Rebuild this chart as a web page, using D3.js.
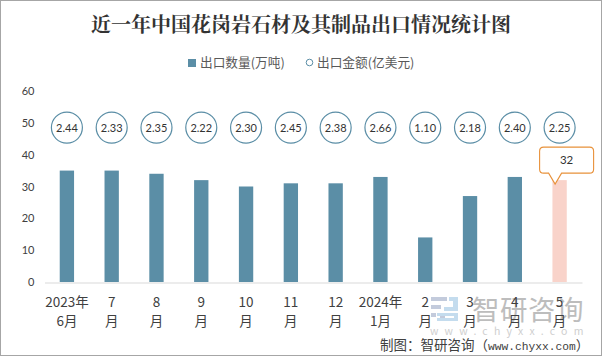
<!DOCTYPE html>
<html>
<head>
<meta charset="utf-8">
<script src="https://cdn.jsdelivr.net/npm/d3@7"></script>
<style>
html, body { margin: 0; padding: 0; background: #fff; }
svg { display: block; }
text { font-family: "Noto Sans CJK SC", "Liberation Sans", sans-serif; }
</style>
</head>
<body>
<div id="chart"></div>
<script>
const width = 602
const height = 356
const margin = { top: 91, right: 20, bottom: 74, left: 44.5 }

const months = ["2023年|6月", "7|月", "8|月", "9|月", "10|月", "11|月", "12|月", "2024年|1月", "2|月", "3|月", "4|月", "5|月"]
const quantity = [35, 35, 34, 32, 30, 31, 31, 33, 14, 27, 33, 32]
const amount = ["2.44", "2.33", "2.35", "2.22", "2.30", "2.45", "2.38", "2.66", "1.10", "2.18", "2.40", "2.25"]
const yTicks = [0, 10, 20, 30, 40, 50, 60]
const circleLevel = 48.5
const highlightIndex = 11

const blue = "#5b8ea6"
const textColor = "#404040"

const svg = d3.select("#chart")
    .append("svg")
    .attr("width", width)
    .attr("height", height)

// outer frame
svg.append("rect")
    .attr("x", 0.5)
    .attr("y", 0.5)
    .attr("width", width - 1)
    .attr("height", height - 1)
    .attr("fill", "#fff")
    .attr("stroke", "#a6a6a6")

svg.append("text")
    .text("近一年中国花岗岩石材及其制品出口情况统计图")
    .attr("x", 301)
    .attr("y", 32)
    .attr("text-anchor", "middle")
    .attr("font-size", 20)
    .attr("font-weight", 700)
    .attr("fill", "#333")
    .style("font-family", '"Noto Serif CJK SC", "Noto Sans CJK SC", serif')

const x = d3.scaleBand()
    .domain(months)
    .range([margin.left, width - margin.right])
    .paddingInner(0.68)
    .paddingOuter(0.34)

const y = d3.scaleLinear()
    .domain([0, 60])
    .range([height - margin.bottom, margin.top])

// watermark goes under the axis labels
const mark = svg.append("g")
mark.append("text")
    .text("智研咨询")
    .attr("x", 472)
    .attr("y", 320)
    .attr("font-size", 27.5)
    .attr("letter-spacing", 0.5)
    .attr("fill", "#bdbdbd")
mark.append("text")
    .text("www.chyxx.com")
    .attr("x", 430)
    .attr("y", 335)
    .attr("font-size", 10.5)
    .attr("letter-spacing", 6.2)
    .attr("fill", "#cfcfcf")
// logo, grey-blue left half and light blue right half
mark.append("path")
    .attr("d", "M431 297h16v4h-16zM431 305h10v4h-10zM431 313h5v4h-5zM440 313h5v8h-5z")
    .attr("fill", "#c3cbdc")
mark.append("path")
    .attr("d", "M449 297h9v14h-14v-4h9v-6h-4zM437 313h21v8h-21v-3h17v-2h-17z")
    .attr("fill", "#c4dcee")

// bars
svg.append("g")
    .selectAll("rect")
    .data(quantity)
    .join("rect")
    .attr("x", (d, i) => x(months[i]))
    .attr("y", d => y(d))
    .attr("width", x.bandwidth())
    .attr("height", d => y(0) - y(d))
    .attr("fill", (d, i) => i === highlightIndex ? "#f9d3ca" : blue)

// y axis, labels only
const yAxis = d3.axisLeft(y).tickValues(yTicks).tickSize(0).tickPadding(10)
const yG = svg.append("g")
    .attr("transform", `translate(${margin.left}, 0)`)
    .call(yAxis)
yG.select(".domain").remove()
yG.selectAll("text")
    .attr("font-size", 11)
    .attr("fill", textColor)
    .style("font-family", 'Lato, sans-serif')

// x axis, labels split over two lines
const xAxis = d3.axisBottom(x).tickSize(0).tickFormat("")
const xG = svg.append("g")
    .attr("transform", `translate(0, ${y(0) + 0.5})`)
    .call(xAxis)
xG.select(".domain")
    .attr("stroke", "#d9d9d9")
    .attr("stroke-width", 1)
xG.selectAll(".tick").each(function (d) {
    const parts = d.split("|")
    const label = d3.select(this).append("text")
        .attr("fill", textColor)
        .attr("font-size", 13.5)
        .attr("text-anchor", "middle")
    parts.forEach((p, j) => {
        label.append("tspan")
            .attr("x", 0)
            .attr("y", 24 + j * 19)
            .text(p)
    })
})

// amount bubbles
const bubble = svg.append("g")
    .selectAll("g")
    .data(amount)
    .join("g")
    .attr("transform", (d, i) => `translate(${x(months[i]) + x.bandwidth() / 2}, ${y(circleLevel)})`)
bubble.append("circle")
    .attr("r", 15.5)
    .attr("fill", "#fff")
    .attr("stroke", blue)
    .attr("stroke-width", 1.2)
bubble.append("text")
    .text(d => d)
    .attr("text-anchor", "middle")
    .attr("dy", "0.36em")
    .attr("font-size", 11)
    .attr("fill", "#333")
    .style("font-family", 'Lato, sans-serif')

// callout over last bar
const cx = x(months[highlightIndex]) + x.bandwidth() / 2
const callY = y(quantity[highlightIndex])
const call = svg.append("g")
call.append("path")
    .attr("d", `M${cx - 11} ${callY - 7}h-5q-4 0 -4 -4v-18q0 -4 4 -4h46q4 0 4 4v18q0 4 -4 4h-28l-6.5 11z`)
    .attr("fill", "#fff")
    .attr("stroke", "#e8913a")
    .attr("stroke-width", 1.1)
call.append("text")
    .text(quantity[highlightIndex])
    .attr("x", cx + 7)
    .attr("y", callY - 16.5)
    .attr("text-anchor", "middle")
    .attr("font-size", 11.5)
    .attr("fill", "#333")
    .style("font-family", 'Lato, sans-serif')

// legend
const legend = svg.append("g")
legend.append("rect")
    .attr("x", 188)
    .attr("y", 59)
    .attr("width", 8)
    .attr("height", 8)
    .attr("fill", blue)
legend.append("text")
    .text("出口数量(万吨)")
    .attr("x", 200)
    .attr("y", 67)
    .attr("font-size", 12.7)
    .attr("fill", "#595959")
legend.append("circle")
    .attr("cx", 309.5)
    .attr("cy", 62.5)
    .attr("r", 3.3)
    .attr("fill", "#fff")
    .attr("stroke", blue)
legend.append("text")
    .text("出口金额(亿美元)")
    .attr("x", 317)
    .attr("y", 67)
    .attr("font-size", 12.7)
    .attr("fill", "#595959")

// source, latin part is half width in the original
const source = svg.append("text")
    .attr("x", 380)
    .attr("y", 350)
    .attr("font-size", 13.5)
    .attr("fill", "#404040")
source.append("tspan").text("制图：智研咨询（")
source.append("tspan")
    .text("www.chyxx.com")
    .attr("font-size", 11.25)
    .style("font-family", '"Liberation Mono", monospace')
source.append("tspan").text("）")
</script>
</body>
</html>
